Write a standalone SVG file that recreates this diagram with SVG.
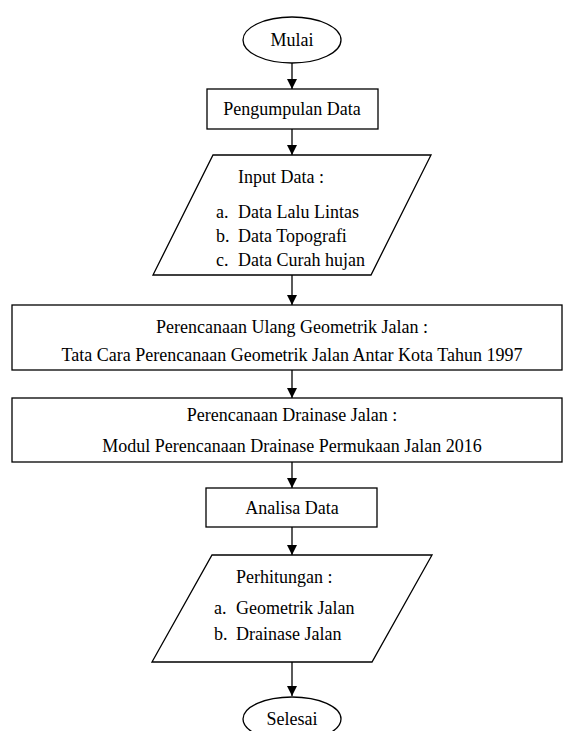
<svg xmlns="http://www.w3.org/2000/svg" width="564" height="731" viewBox="0 0 564 731">
<style>
.s{fill:#fff;stroke:#000;stroke-width:1.3}
.t{font-family:'Liberation Serif','Times New Roman',Tinos,'DejaVu Serif',serif;font-size:18px;fill:#000}
.m{text-anchor:middle}
.c{stroke:#000;stroke-width:1.3;fill:none}
</style>
<defs>
<marker id="a" markerWidth="10" markerHeight="12" refX="10" refY="5" orient="auto" markerUnits="userSpaceOnUse">
<path d="M0,0 L10,5 L0,10 Z" fill="#000"/>
</marker>
</defs>
<rect width="564" height="731" fill="#fff"/>
<g id="connectors">
<line class="c" x1="292" y1="63" x2="292" y2="89" marker-end="url(#a)"/>
<line class="c" x1="292" y1="129" x2="292" y2="155" marker-end="url(#a)"/>
<line class="c" x1="292" y1="275" x2="292" y2="305" marker-end="url(#a)"/>
<line class="c" x1="292" y1="370" x2="292" y2="398" marker-end="url(#a)"/>
<line class="c" x1="292" y1="462" x2="292" y2="488" marker-end="url(#a)"/>
<line class="c" x1="292" y1="527" x2="292" y2="555" marker-end="url(#a)"/>
<line class="c" x1="292" y1="662" x2="292" y2="696" marker-end="url(#a)"/>
</g>
<g id="mulai">
<ellipse class="s" cx="292" cy="40" rx="49" ry="23"/>
<text class="t m" x="292" y="46">Mulai</text>
</g>
<g id="pengumpulan">
<rect class="s" x="207" y="89" width="171" height="40"/>
<text class="t m" x="292" y="115">Pengumpulan Data</text>
</g>
<g id="input">
<polygon class="s" points="213,155 431,155 371,275 153,275"/>
<text class="t" x="238" y="183">Input Data :</text>
<text class="t" y="218"><tspan x="216">a.</tspan><tspan x="238">Data Lalu Lintas</tspan></text>
<text class="t" y="242"><tspan x="216">b.</tspan><tspan x="238">Data Topografi</tspan></text>
<text class="t" y="266"><tspan x="216">c.</tspan><tspan x="238">Data Curah hujan</tspan></text>
</g>
<g id="geometrik">
<rect class="s" x="12" y="305" width="550" height="65"/>
<text class="t m" x="292" y="333">Perencanaan Ulang Geometrik Jalan :</text>
<text class="t m" x="292" y="361">Tata Cara Perencanaan Geometrik Jalan Antar Kota Tahun 1997</text>
</g>
<g id="drainase">
<rect class="s" x="12" y="398" width="550" height="64"/>
<text class="t m" x="292" y="421">Perencanaan Drainase Jalan :</text>
<text class="t m" x="292" y="452">Modul Perencanaan Drainase Permukaan Jalan 2016</text>
</g>
<g id="analisa">
<rect class="s" x="206" y="488" width="171" height="39"/>
<text class="t m" x="292" y="514">Analisa Data</text>
</g>
<g id="perhitungan">
<polygon class="s" points="212,555 432,555 372,662 152,662"/>
<text class="t" x="236" y="583">Perhitungan :</text>
<text class="t" y="614"><tspan x="214">a.</tspan><tspan x="236">Geometrik Jalan</tspan></text>
<text class="t" y="640"><tspan x="214">b.</tspan><tspan x="236">Drainase Jalan</tspan></text>
</g>
<g id="selesai">
<ellipse class="s" cx="292" cy="719" rx="49" ry="22"/>
<text class="t m" x="292" y="725">Selesai</text>
</g>
</svg>
